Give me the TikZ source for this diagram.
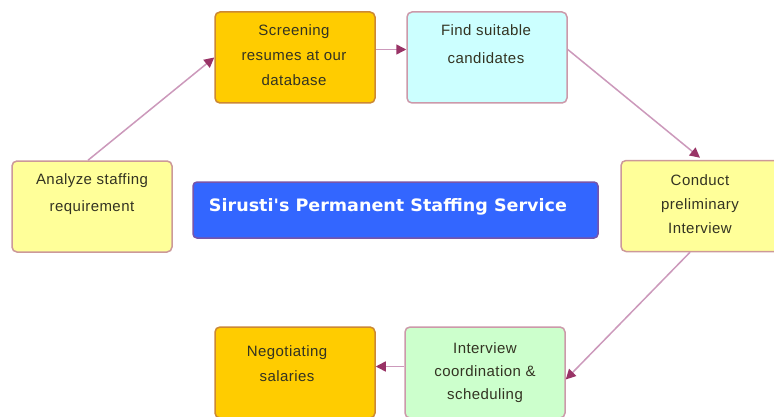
\documentclass[tikz,border=0pt]{standalone}
\usepackage{fontspec}
\setmainfont{Liberation Sans}
\newfontfamily\boxfont[LetterSpace=3]{Liberation Sans}
\newfontfamily\titlefont{DejaVu Sans}
\usetikzlibrary{arrows.meta}
\definecolor{conn}{HTML}{CC99BB}
\definecolor{tip}{HTML}{993366}
\definecolor{orangefill}{HTML}{FFCC00}
\definecolor{orangeedge}{HTML}{CC8833}
\definecolor{cyanfill}{HTML}{CCFFFF}
\definecolor{yellowfill}{HTML}{FFFF99}
\definecolor{yellowedge}{HTML}{CC9999}
\definecolor{greenfill}{HTML}{CCFFCC}
\definecolor{pinkedge}{HTML}{CC99AA}
\definecolor{bluefill}{HTML}{3366FF}
\definecolor{blueedge}{HTML}{7755AA}
\definecolor{txt}{HTML}{333322}
\tikzset{
  box/.style={draw, line width=1.5pt, rounded corners=5pt, minimum width=160pt, minimum height=91pt, inner sep=0pt},
  boxtext/.style={align=center, text=txt, font=\boxfont\fontsize{15}{25}\selectfont, inner sep=0pt},
  flow/.style={draw=conn, line width=1.5pt, -{Triangle[length=10pt,width=10pt,fill=tip,color=tip]}}
}
\begin{document}
\begin{tikzpicture}[x=1pt,y=1pt]
\useasboundingbox (0,0) rectangle (774,416);
\clip (0,0) rectangle (774,416);
\fill[white] (0,0) rectangle (774,416);
% boxes
\node[box, draw=orangeedge, fill=orangefill] (sc) at (295,358.5) {};
\node[box, draw=pinkedge, fill=cyanfill] (fi) at (487,358.5) {};
\node[box, draw=yellowedge, fill=yellowfill] (an) at (92,209.5) {};
\node[box, draw=yellowedge, fill=yellowfill] (co) at (701,210) {};
\node[box, draw=pinkedge, fill=greenfill] (iv) at (485,43.5) {};
\node[box, draw=orangeedge, fill=orangefill] (ne) at (295,43.5) {};
\node[draw=blueedge, fill=bluefill, line width=1.5pt, rounded corners=4pt, minimum width=405pt, minimum height=56pt, inner sep=0pt] (ti) at (395.5,206) {};
% texts
\node[boxtext] (sct) at (294,361) {Screening\\resumes at our\\database};
\node[boxtext, font=\boxfont\fontsize{15}{28}\selectfont] (fit) at (486,372) {Find suitable\\candidates};
\node[boxtext, font=\boxfont\fontsize{15}{27}\selectfont] (ant) at (92,221.5) {Analyze staffing\\requirement};
\node[boxtext, font=\boxfont\fontsize{15}{24}\selectfont] (cot) at (700,212) {Conduct\\preliminary\\Interview};
\node[boxtext, font=\boxfont\fontsize{15}{23}\selectfont] (ivt) at (485,43) {Interview\\coordination \&\\scheduling};
\node[boxtext] (net) at (287,52.5) {Negotiating\\salaries};
\node[text=white, inner sep=0pt] (tit) at (388,209) {\resizebox{358pt}{13pt}{\titlefont\bfseries Sirusti's Permanent Staffing Service}};
% connectors
\coordinate (anout) at ([xshift=-4pt]an.north);
\draw[flow] (anout) -- (sc.west);
\draw[flow] ([yshift=8pt]sc.east) -- ([yshift=8pt]fi.west);
\coordinate (coin) at ([xshift=-1pt,yshift=2pt]co.north);
\draw[flow] ([yshift=8pt]fi.east) -- (coin);
\coordinate (coout) at ([xshift=-11pt]co.south);
\coordinate (ivin) at ([yshift=-7pt]iv.east);
\draw[flow] (coout) -- (ivin);
\draw[flow] ([yshift=6pt]iv.west) -- ([yshift=6pt]ne.east);
\end{tikzpicture}
\end{document}
